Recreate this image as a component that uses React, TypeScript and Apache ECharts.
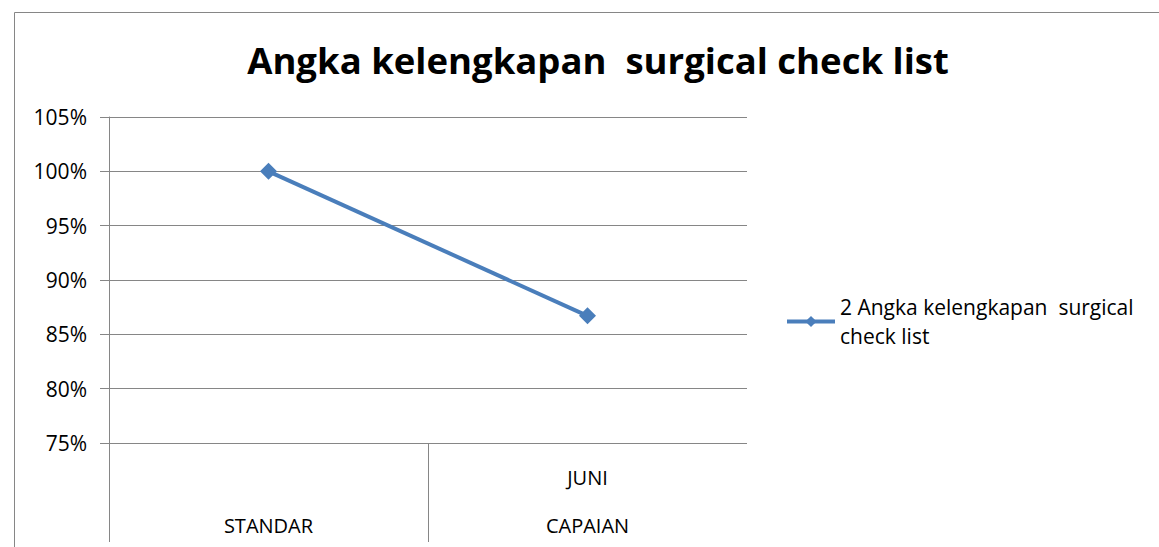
import React, { useEffect, useRef } from "react";
import * as echarts from "echarts";

const TITLE = "Angka kelengkapan  surgical check list";
const SERIES_NAME = "2 Angka kelengkapan  surgical check list";
const categories = ["STANDAR", "CAPAIAN"];
const periodLabels = ["", "JUNI"];
const values = [100, 86.7];
const yMin = 75;
const yMax = 105;
const yStep = 5;

const FONT = "'Open Sans', sans-serif";
const GRID_COLOR = "#868686";
const LINE_COLOR = "#4A7EBB";

export default function App() {
  const ref = useRef<HTMLDivElement>(null);
  useEffect(() => {
    if (!ref.current) return;
    const chart = echarts.init(ref.current, undefined, { renderer: "svg" });
    const gridLeft = 109;
    const gridRight = 747;
    const gridTop = 117;
    const gridBottom = 443;
    chart.setOption({
      animation: false,
      backgroundColor: "#fff",
      textStyle: { fontFamily: FONT },
      title: {
        text: TITLE,
        left: 593,
        top: 36,
        textAlign: "center",
        textStyle: { fontFamily: FONT, fontWeight: "bold", fontSize: 36.5, color: "#000" },
      },
      grid: {
        left: gridLeft,
        right: 1159 - gridRight,
        top: gridTop,
        bottom: 547 - gridBottom,
        containLabel: false,
      },
      legend: {
        left: 785,
        top: 278,
        padding: 0,
        itemWidth: 48,
        itemHeight: 14,
        data: [SERIES_NAME],
        lineStyle: { width: 4 },
        formatter: () => "2 Angka kelengkapan  surgical\ncheck list",
        textStyle: {
          fontFamily: FONT,
          fontSize: 21,
          lineHeight: 29,
          color: "#000",
          padding: [29, 0, 0, 0],
        },
      },
      xAxis: [
        {
          type: "category",
          data: categories,
          boundaryGap: true,
          position: "bottom",
          axisLine: { show: false },
          axisTick: { show: false },
          axisLabel: { margin: 72, fontSize: 20, color: "#000", fontFamily: FONT },
        },
        {
          type: "category",
          data: periodLabels,
          boundaryGap: true,
          position: "bottom",
          axisLine: { show: false },
          axisTick: { show: false },
          axisLabel: { margin: 24, fontSize: 20, color: "#000", fontFamily: FONT },
        },
      ],
      yAxis: {
        type: "value",
        min: yMin,
        max: yMax,
        interval: yStep,
        axisLine: { show: true, lineStyle: { color: GRID_COLOR, width: 1 } },
        axisTick: { show: true, length: 9, lineStyle: { color: GRID_COLOR } },
        axisLabel: {
          formatter: "{value}%",
          margin: 22,
          fontSize: 21,
          color: "#000",
          fontFamily: FONT,
        },
        splitLine: { show: true, lineStyle: { color: GRID_COLOR, width: 1 } },
      },
      series: [
        {
          name: SERIES_NAME,
          type: "line",
          data: values,
          xAxisIndex: 0,
          symbol: "diamond",
          symbolSize: 17,
          lineStyle: { color: LINE_COLOR, width: 4 },
          itemStyle: { color: LINE_COLOR },
        },
      ],
      graphic: [
        {
          type: "rect",
          shape: { x: 14.5, y: 12.5, width: 1300, height: 700 },
          style: { fill: "none", stroke: GRID_COLOR, lineWidth: 1 },
          silent: true,
        },
        {
          type: "line",
          shape: { x1: gridLeft + 0.5, y1: gridBottom, x2: gridLeft + 0.5, y2: 542 },
          style: { stroke: GRID_COLOR, lineWidth: 1 },
          silent: true,
        },
        {
          type: "line",
          shape: { x1: 428.5, y1: gridBottom, x2: 428.5, y2: 542 },
          style: { stroke: GRID_COLOR, lineWidth: 1 },
          silent: true,
        },
      ],
    });
    return () => chart.dispose();
  }, []);
  return (
    <div
      ref={ref}
      style={{ position: "fixed", left: 0, top: 0, width: 1159, height: 547 }}
    />
  );
}
